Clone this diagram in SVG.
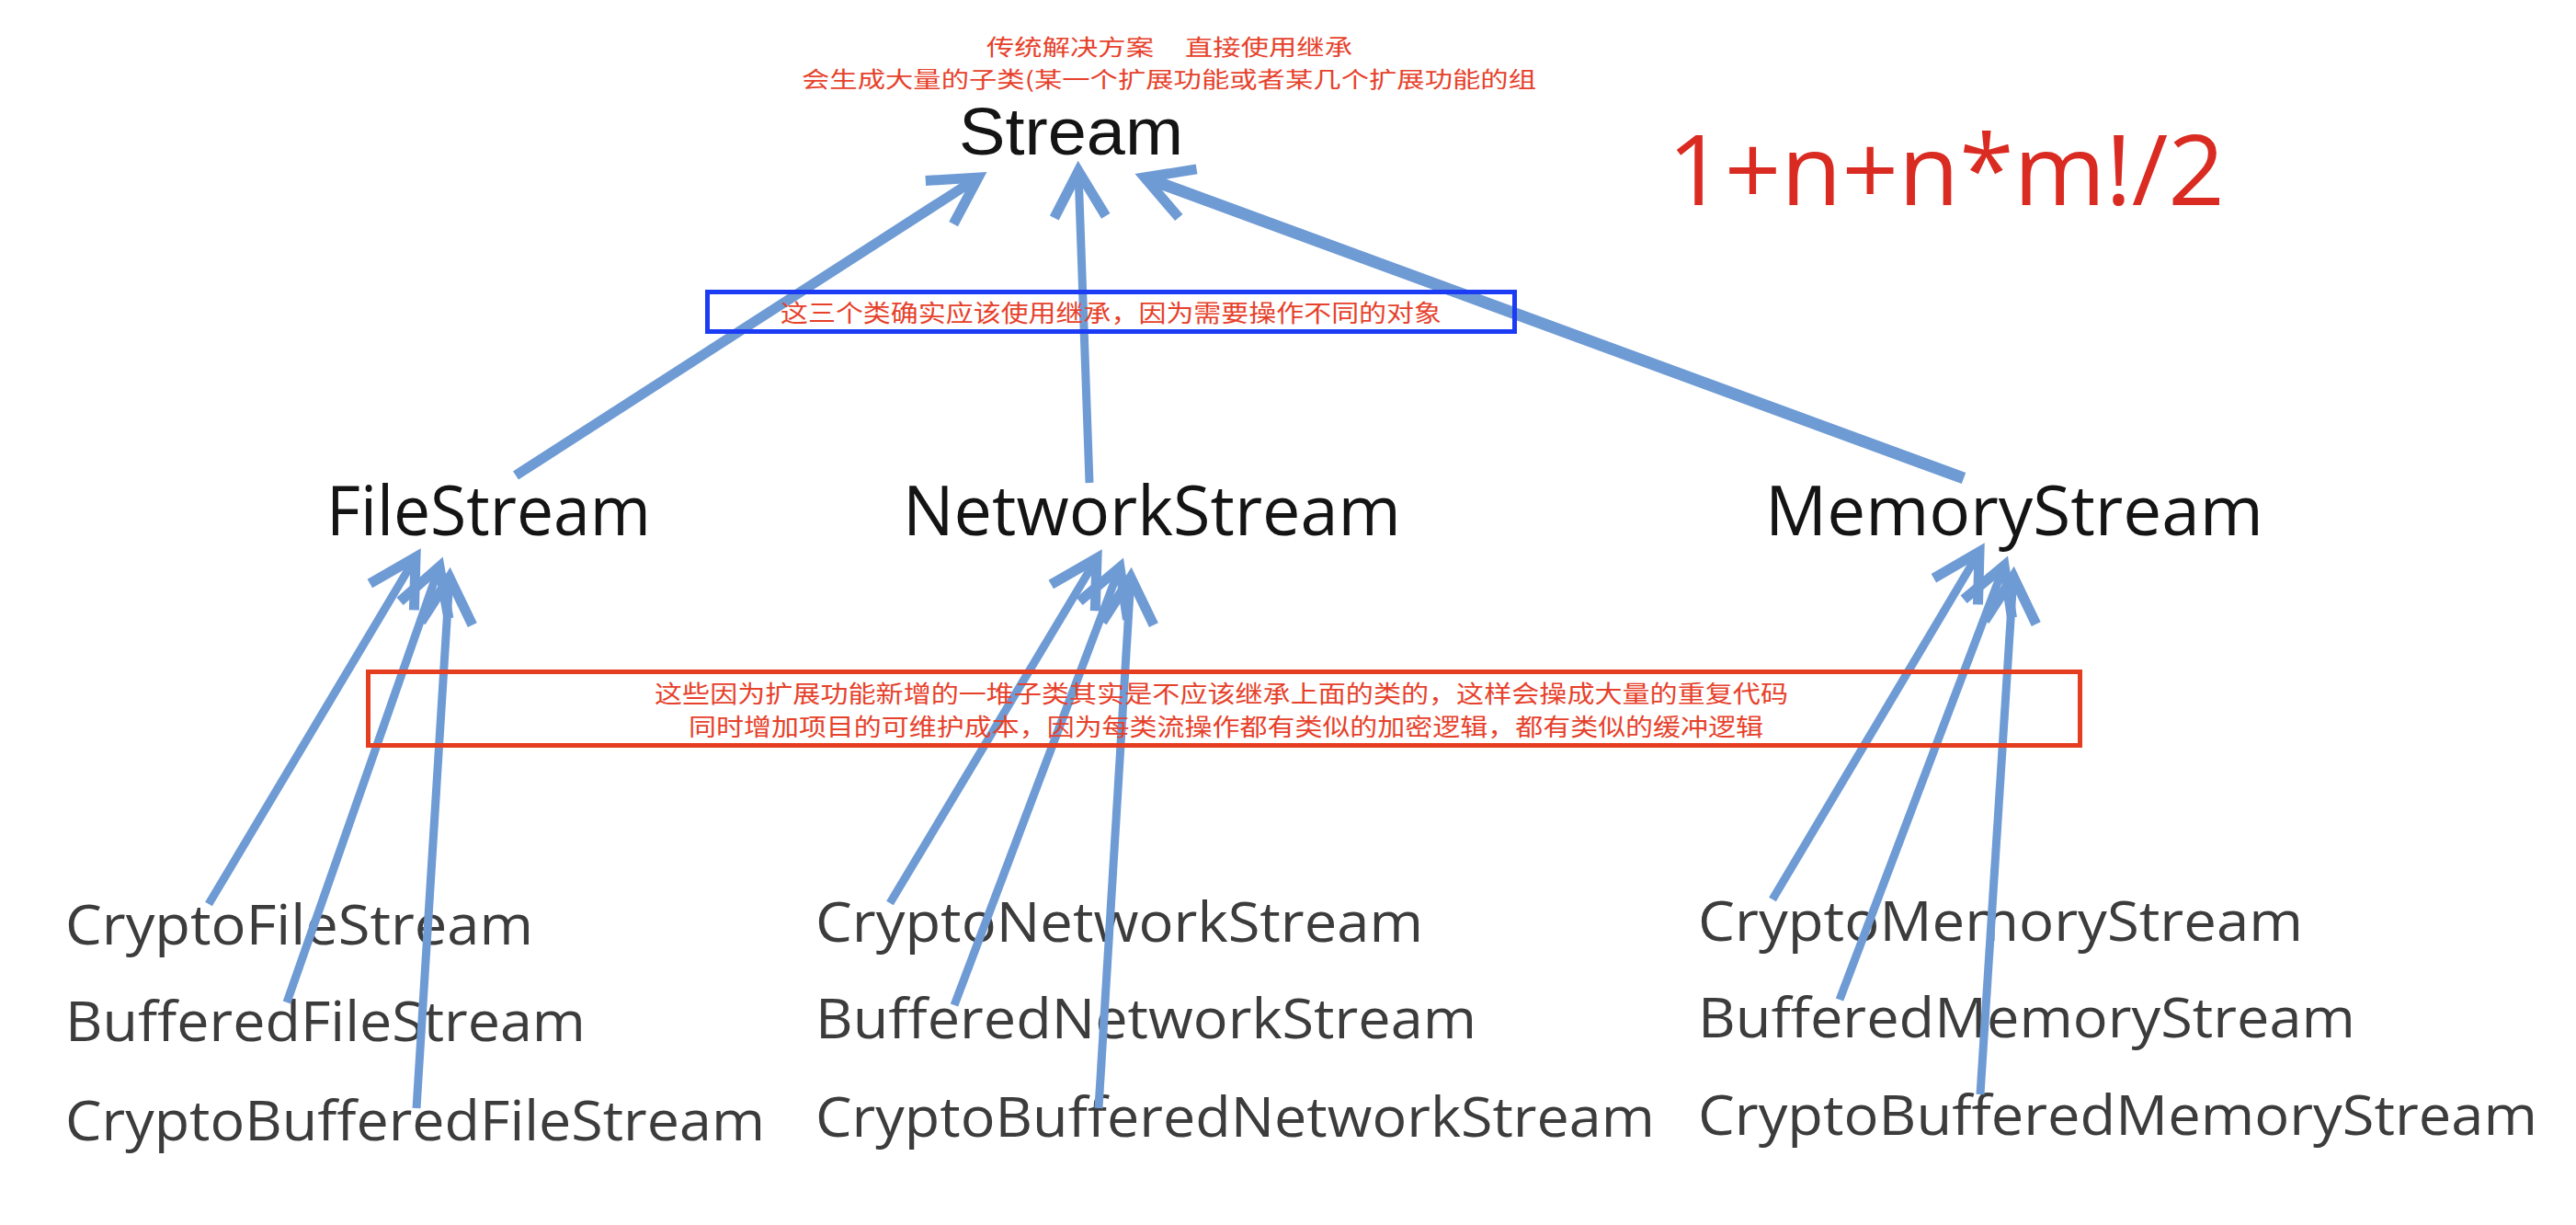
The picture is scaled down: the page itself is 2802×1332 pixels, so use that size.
<svg xmlns="http://www.w3.org/2000/svg" width="2802" height="1332" viewBox="0 0 2802 1332">
<style>
.node{font-family:"Open Sans","Liberation Sans",sans-serif;fill:#141414;font-size:75px}
.root{font-family:"Liberation Sans","Open Sans",sans-serif;font-size:73px}
.leaf{font-family:"Open Sans","Liberation Sans",sans-serif;fill:#3c3c3c;font-size:61px}
.note{font-family:"Noto Sans CJK SC","Noto Sans",sans-serif;fill:#E6412B;font-size:26px}
.title{font-size:24px}
.formula{font-family:"Open Sans","Liberation Sans",sans-serif;fill:#D92B22;font-size:106px}
.edge{stroke:#6F9BD5;fill:none;stroke-linecap:butt;marker-end:url(#ah)}
.top{stroke-width:11}
.sub{stroke-width:9}
.boxblue{fill:none;stroke:#1B3CF4;stroke-width:5}
.boxred{fill:none;stroke:#E43D1F;stroke-width:5}
</style>
<defs>
<marker id="ah" markerUnits="userSpaceOnUse" orient="auto" overflow="visible" markerWidth="1" markerHeight="1" refX="0" refY="0">
<path d="M-50,-28 L0,0 L-50,28" fill="none" stroke="#6F9BD5" stroke-width="11" stroke-linejoin="miter"/>
</marker>
</defs>
<rect x="0" y="0" width="2802" height="1332" fill="#ffffff"/>

<g id="title-note">
<text class="note title" x="1073" y="60" textLength="398" lengthAdjust="spacingAndGlyphs" xml:space="preserve">传统解决方案     直接使用继承</text>
<text class="note title" x="872" y="95" textLength="799" lengthAdjust="spacingAndGlyphs">会生成大量的子类(某一个扩展功能或者某几个扩展功能的组</text>
</g>

<g id="formula">
<text class="formula" x="1814" y="223" textLength="606" lengthAdjust="spacingAndGlyphs">1+n+n*m!/2</text>
</g>

<g id="node-stream"><text class="node root" x="1043" y="168" textLength="244" lengthAdjust="spacingAndGlyphs">Stream</text></g>
<g id="node-filestream"><text class="node" x="355" y="582" textLength="353" lengthAdjust="spacingAndGlyphs">FileStream</text></g>
<g id="node-networkstream"><text class="node" x="982" y="582" textLength="542" lengthAdjust="spacingAndGlyphs">NetworkStream</text></g>
<g id="node-memorystream"><text class="node" x="1920" y="582" textLength="542" lengthAdjust="spacingAndGlyphs">MemoryStream</text></g>

<g id="node-cryptofilestream"><text class="leaf" x="71" y="1027" textLength="509" lengthAdjust="spacingAndGlyphs">CryptoFileStream</text></g>
<g id="node-bufferedfilestream"><text class="leaf" x="71" y="1132" textLength="566" lengthAdjust="spacingAndGlyphs">BufferedFileStream</text></g>
<g id="node-cryptobufferedfilestream"><text class="leaf" x="71" y="1240" textLength="761" lengthAdjust="spacingAndGlyphs">CryptoBufferedFileStream</text></g>

<g id="node-cryptonetworkstream"><text class="leaf" x="887" y="1024" textLength="661" lengthAdjust="spacingAndGlyphs">CryptoNetworkStream</text></g>
<g id="node-bufferednetworkstream"><text class="leaf" x="887" y="1129" textLength="719" lengthAdjust="spacingAndGlyphs">BufferedNetworkStream</text></g>
<g id="node-cryptobufferednetworkstream"><text class="leaf" x="887" y="1236" textLength="913" lengthAdjust="spacingAndGlyphs">CryptoBufferedNetworkStream</text></g>

<g id="node-cryptomemorystream"><text class="leaf" x="1847" y="1023" textLength="658" lengthAdjust="spacingAndGlyphs">CryptoMemoryStream</text></g>
<g id="node-bufferedmemorystream"><text class="leaf" x="1847" y="1128" textLength="715" lengthAdjust="spacingAndGlyphs">BufferedMemoryStream</text></g>
<g id="node-cryptobufferedmemorystream"><text class="leaf" x="1847" y="1234" textLength="913" lengthAdjust="spacingAndGlyphs">CryptoBufferedMemoryStream</text></g>

<g id="connectors">
<path class="edge top" d="M561,517 L1064,193"/>
<path class="edge top" style="stroke-width:9" d="M1185,525 L1173,186"/>
<path class="edge top" style="stroke-width:13" d="M2136,520 L1245,193"/>

<path class="edge sub" d="M227,983 L452,606"/>
<path class="edge sub" d="M312,1090 L478,616"/>
<path class="edge sub" d="M453,1205 L489,628"/>

<path class="edge sub" d="M968,982 L1193,607"/>
<path class="edge sub" d="M1038,1093 L1218,617"/>
<path class="edge sub" d="M1195,1205 L1230,628"/>

<path class="edge sub" d="M1928,978 L2153,600"/>
<path class="edge sub" d="M2001,1087 L2180,615"/>
<path class="edge sub" d="M2154,1190 L2190,627"/>
</g>

<g id="note-inherit">
<rect class="boxblue" x="769.5" y="317.5" width="878" height="43"/>
<text class="note" x="849" y="350" textLength="719" lengthAdjust="spacingAndGlyphs">这三个类确实应该使用继承，因为需要操作不同的对象</text>
</g>

<g id="note-subclasses">
<rect class="boxred" x="400.5" y="730.5" width="1862" height="80"/>
<text class="note" x="712" y="764" textLength="1233" lengthAdjust="spacingAndGlyphs">这些因为扩展功能新增的一堆子类其实是不应该继承上面的类的，这样会操成大量的重复代码</text>
<text class="note" x="749" y="800" textLength="1169" lengthAdjust="spacingAndGlyphs">同时增加项目的可维护成本，因为每类流操作都有类似的加密逻辑，都有类似的缓冲逻辑</text>
</g>
</svg>
